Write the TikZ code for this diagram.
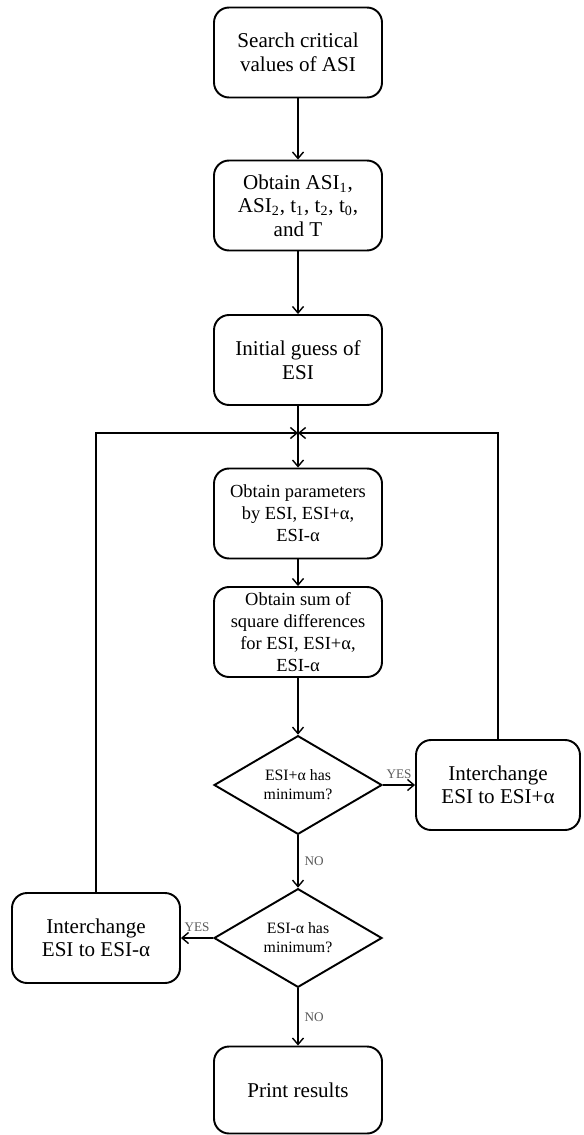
\documentclass[tikz,border=0pt]{standalone}
\usepackage{fontspec}
\setmainfont{Liberation Serif}
\usetikzlibrary{arrows.meta, shapes.geometric}

\begin{document}
\begin{tikzpicture}[x=0.02cm, y=-0.02cm, line width=0.8pt,
  >={Straight Barb[length=0.13cm, width=0.22cm]},
  box/.style={draw, rounded corners=0.3cm, line width=1.1pt, align=center, minimum width=3.36cm, minimum height=1.8cm, inner sep=1pt, font=\fontsize{12}{13.4}\selectfont},
  sbox/.style={box, font=\fontsize{10.5}{12.6}\selectfont},
  dec/.style={draw, diamond, line width=1.1pt, align=center, minimum width=3.36cm, minimum height=1.8cm, inner sep=0pt, font=\fontsize{9}{10.8}\selectfont},
  lab/.style={font=\fontsize{7.5}{8}\selectfont, text=black!65}]
\useasboundingbox (0,0) rectangle (583,1135);
\node[box] (s) at (298,52.5) {Search critical\\ values of ASI};
\node[box] (o) at (298,205.5) {Obtain ASI\textsubscript{1},\\ ASI\textsubscript{2}, t\textsubscript{1}, t\textsubscript{2}, t\textsubscript{0},\\ and T};
\node[box] (g) at (298,360) {Initial guess of\\ ESI};
\coordinate (j) at (298,433);
\node[sbox] (p) at (298,513.5) {Obtain parameters\\ by ESI, ESI+α,\\ ESI-α};
\node[sbox] (d) at (298,632) {Obtain sum of\\ square differences\\ for ESI, ESI+α,\\ ESI-α};
\node[dec] (q1) at (298,785) {ESI+α has\\ minimum?};
\node[box, minimum width=3.28cm] (rp) at (498,785) {Interchange\\ ESI to ESI+α};
\node[dec] (q2) at (298,938) {ESI-α has\\ minimum?};
\node[box] (rm) at (96,938) {Interchange\\ ESI to ESI-α};
\node[box, minimum height=1.74cm] (r) at (298,1090) {Print results};
\draw[->] (s) -- (o);
\draw[->] (o) -- (g);
\draw[->] (g) -- (p);
\draw[->] (p) -- (d);
\draw[->] (d) -- (q1);
\draw[->] (q1) -- (rp) node[lab, above, pos=.5]{YES};
\draw[->] (q1) -- (q2) node[lab, right, pos=.5]{NO};
\draw[->] (q2) -- (rm) node[lab, above, pos=.5]{YES};
\draw[->] (q2) -- (r) node[lab, right, pos=.5]{NO};
\draw[->] (rp) |- (j);
\draw[->] (rm) |- (j);
\end{tikzpicture}
\end{document}
